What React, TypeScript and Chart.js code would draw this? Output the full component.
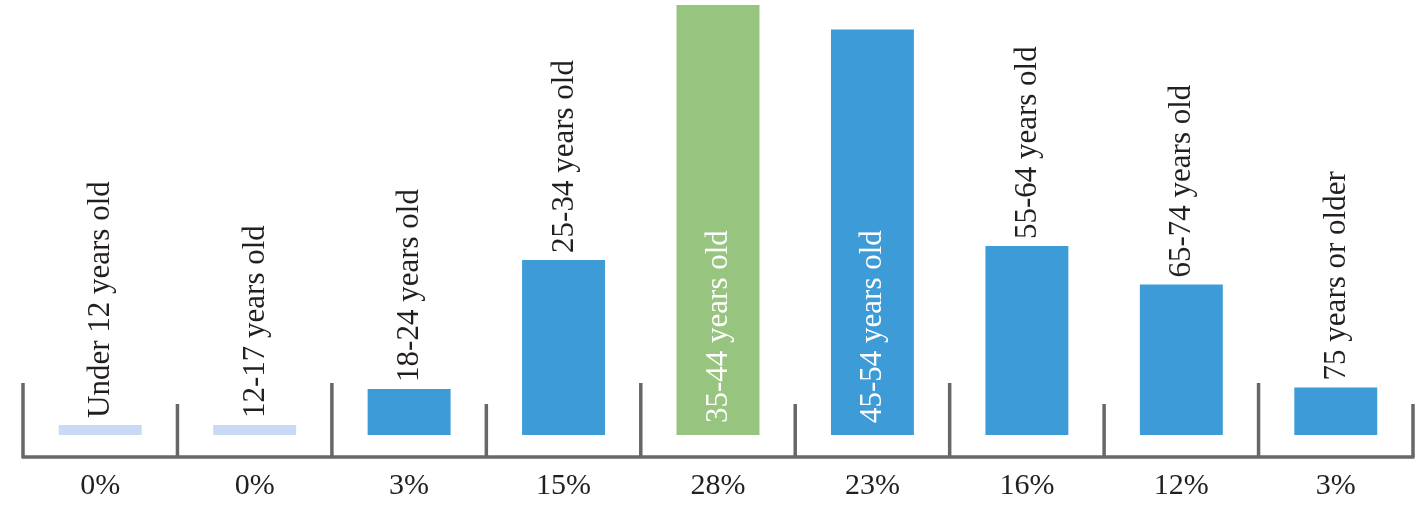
import React, { useEffect, useRef } from "react";
import { Chart, registerables } from "chart.js";

Chart.register(...registerables);

const categories = [
  "Under 12 years old",
  "12-17 years old",
  "18-24 years old",
  "25-34 years old",
  "35-44 years old",
  "45-54 years old",
  "55-64 years old",
  "65-74 years old",
  "75 years or older",
];
const barValues = [0, 0, 3.0, 11.4, 28, 26.4, 12.3, 9.8, 3.1];
const percentLabels = ["0%", "0%", "3%", "15%", "28%", "23%", "16%", "12%", "3%"];
const barColors = [
  "#c8daf5",
  "#c8daf5",
  "#3d9bd8",
  "#3d9bd8",
  "#97c47e",
  "#3d9bd8",
  "#3d9bd8",
  "#3d9bd8",
  "#3d9bd8",
];
const insideLabel = [false, false, false, false, true, true, false, false, false];

const FONT = '31px "Liberation Serif", "DejaVu Serif", serif';
const PCT_FONT = '30px "Liberation Serif", "DejaVu Serif", serif';
const TEXT = "#231f20";
const AXIS = "#676767";

const decorPlugin = {
  id: "decor",
  afterDatasetsDraw(chart: any) {
    const ctx = chart.ctx;
    const meta = chart.getDatasetMeta(0);
    const xs = chart.scales.x;
    const n = categories.length;
    const step = (xs.right - xs.left) / n;
    const axisY = 457;

    ctx.save();
    // axis line
    ctx.strokeStyle = AXIS;
    ctx.lineWidth = 3.5;
    ctx.lineCap = "butt";
    ctx.beginPath();
    ctx.moveTo(xs.left - 1.5, axisY);
    ctx.lineTo(xs.right + 1.5, axisY);
    ctx.stroke();
    // ticks
    for (let i = 0; i <= n; i++) {
      const x = xs.left + i * step;
      const top = i % 2 === 0 ? 383 : 404;
      ctx.beginPath();
      ctx.moveTo(x, axisY);
      ctx.lineTo(x, top);
      ctx.stroke();
    }
    // percent labels
    ctx.fillStyle = TEXT;
    ctx.font = PCT_FONT;
    ctx.textAlign = "center";
    ctx.textBaseline = "alphabetic";
    for (let i = 0; i < n; i++) {
      const cx = xs.getPixelForValue(i);
      ctx.fillText(percentLabels[i], cx, 494);
    }
    // category labels (rotated)
    ctx.font = FONT;
    ctx.textAlign = "left";
    meta.data.forEach((bar: any, i: number) => {
      const { x, y, base } = bar.getProps(["x", "y", "base"], true);
      ctx.save();
      let startY: number;
      if (insideLabel[i]) {
        ctx.fillStyle = "#ffffff";
        startY = base - 12;
      } else {
        ctx.fillStyle = TEXT;
        startY = y - 7;
      }
      ctx.translate(x + 9, startY);
      ctx.rotate(-Math.PI / 2);
      ctx.fillText(categories[i], 0, 0);
      ctx.restore();
    });
    ctx.restore();
  },
};

export default function App() {
  const ref = useRef<HTMLCanvasElement | null>(null);

  useEffect(() => {
    document.body.style.margin = "0";
    const canvas = ref.current;
    if (!canvas) return;
    const chart = new Chart(canvas, {
      type: "bar",
      data: {
        labels: categories,
        datasets: [
          {
            data: barValues,
            backgroundColor: barColors,
            borderWidth: 0,
            barPercentage: 0.537,
            categoryPercentage: 1,
            minBarLength: 10,
          },
        ],
      },
      options: {
        responsive: false,
        animation: false,
        devicePixelRatio: 1,
        layout: { padding: { left: 23, right: 11, top: 5, bottom: 70 } },
        plugins: {
          legend: { display: false },
          tooltip: { enabled: false },
          title: { display: false },
        },
        scales: {
          x: { display: false },
          y: { display: false, min: 0, max: 28 },
        },
      },
      plugins: [decorPlugin],
    });
    return () => chart.destroy();
  }, []);

  return (
    <div style={{ width: 1424, height: 505, background: "#ffffff" }}>
      <canvas ref={ref} width={1424} height={505} style={{ display: "block" }} />
    </div>
  );
}
